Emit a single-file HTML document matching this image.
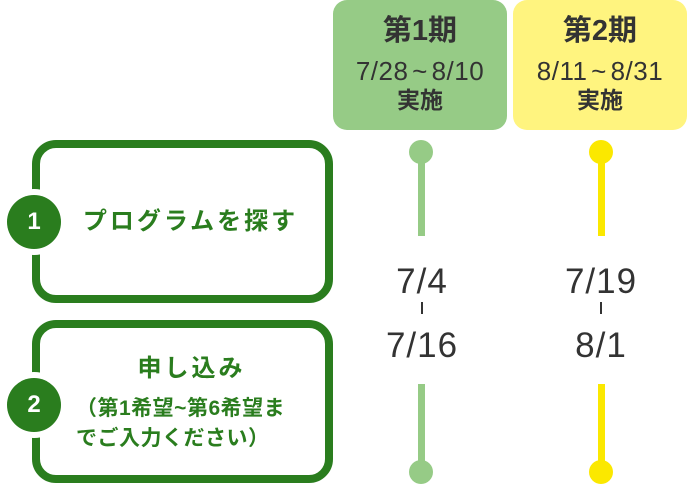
<!DOCTYPE html>
<html><head><meta charset="utf-8"><style>
body{margin:0;width:687px;height:500px;background:#fff;position:relative;overflow:hidden;font-family:"Liberation Sans","Noto Sans CJK JP",sans-serif}
.a{position:absolute}
.hd{position:absolute;top:0;width:174px;height:130px;border-radius:14px;text-align:center;color:#333;font-weight:bold}
.hd .t{font-size:29px;margin-top:14px;line-height:34px}
.hd .d{font-size:26px;line-height:30px;margin-top:8px;font-weight:normal;letter-spacing:0.5px;word-spacing:-4px}
.hd .s{font-size:23px;line-height:28px}
.box{position:absolute;left:32px;width:285px;border:8px solid #2a7d1e;border-radius:24px;color:#2a7d1e;font-weight:bold;text-align:center}
.c{position:absolute;width:54px;height:54px;border-radius:50%;background:#2a7d1e;color:#fff;font-size:24px;font-weight:bold;text-align:center;line-height:54px;box-shadow:0 0 0 6px #fff}
.date{position:absolute;width:140px;text-align:center;font-size:35px;color:#333;letter-spacing:1px}
.tick{position:absolute;width:2px;height:12px;background:#333}
</style></head><body>
<div class="hd" style="left:333px;background:#96cb86"><div class="t">第1期</div><div class="d">7/28 ~ 8/10</div><div class="s">実施</div></div>
<div class="hd" style="left:513px;background:#fff47f"><div class="t">第2期</div><div class="d">8/11 ~ 8/31</div><div class="s">実施</div></div>

<div class="box" style="top:140px;height:147px"><div style="font-size:24px;line-height:147px;padding-left:16px;letter-spacing:3px">プログラムを探す</div></div>
<div class="box" style="top:320px;height:147px"><div style="padding-left:18px;padding-top:26px;font-size:24px;line-height:30px;letter-spacing:3px">申し込み</div><div style="font-size:21px;line-height:30px;padding-left:36px;margin-top:10px;text-align:left;letter-spacing:0.5px;white-space:nowrap">（第1希望~第6希望ま<br>でご入力ください）</div></div>
<div class="c" style="left:7px;top:195px">1</div>
<div class="c" style="left:7px;top:378px">2</div>

<div class="a" style="left:409px;top:140px;width:24px;height:24px;border-radius:50%;background:#96cb86"></div>
<div class="a" style="left:418px;top:152px;width:7px;height:84px;background:#96cb86"></div>
<div class="a" style="left:418px;top:384px;width:7px;height:88px;background:#96cb86"></div>
<div class="a" style="left:409px;top:460px;width:24px;height:24px;border-radius:50%;background:#96cb86"></div>

<div class="a" style="left:589px;top:140px;width:24px;height:24px;border-radius:50%;background:#fbe800"></div>
<div class="a" style="left:598px;top:152px;width:7px;height:84px;background:#fbe800"></div>
<div class="a" style="left:598px;top:384px;width:7px;height:88px;background:#fbe800"></div>
<div class="a" style="left:589px;top:460px;width:24px;height:24px;border-radius:50%;background:#fbe800"></div>

<div class="date" style="left:352px;top:262px">7/4</div>
<div class="tick" style="left:421px;top:302px"></div>
<div class="date" style="left:352px;top:326px">7/16</div>
<div class="date" style="left:531px;top:262px">7/19</div>
<div class="tick" style="left:600px;top:302px"></div>
<div class="date" style="left:531px;top:326px">8/1</div>
</body></html>
